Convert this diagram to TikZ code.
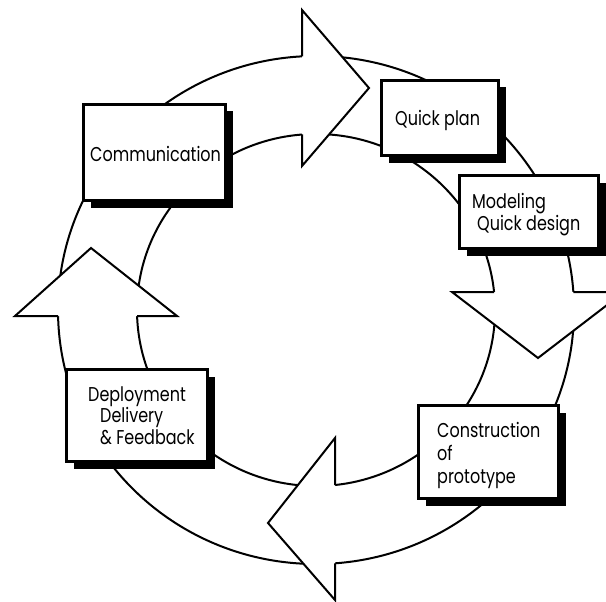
\documentclass[tikz,border=0pt]{standalone}
\usepackage{fontspec}
\setmainfont{Poppins}[FakeStretch=0.8]
\usetikzlibrary{shadows}
\begin{document}
\begin{tikzpicture}[x=1pt,y=-1pt,
  ring/.style={line width=2pt},
  headfill/.style={fill=white},
  headline/.style={line width=2pt, line join=miter, miter limit=10},
  box/.style={draw, line width=3pt, fill=white, inner sep=0pt, outer sep=0pt,
    drop shadow={shadow xshift=7pt, shadow yshift=-7pt, fill=black, opacity=1}},
  lbl/.style={anchor=base west, inner sep=0pt, font=\fontsize{20}{22}\selectfont}
]
\useasboundingbox (0,0) rectangle (606,602);
\clip (0,0) rectangle (606,602);
% ring
\draw[ring] (316,310) ellipse [x radius=258, y radius=254];
\draw[ring] (316,310) ellipse [x radius=179, y radius=176];
% arrowheads
% top (pointing right)
\fill[headfill] (302,10) -- (369,88) -- (302,166) -- cycle;
\draw[headline] (302,56.4) -- (302,10) -- (369,88) -- (302,166) -- (302,134.5);
% left (pointing up)
\fill[headfill] (15,316) -- (91,248) -- (177,316) -- cycle;
\draw[headline] (58.1,316) -- (15,316) -- (91,248) -- (177,316) -- (137.1,316);
% right (pointing down)
\fill[headfill] (452,292) -- (538,358) -- (624,292) -- cycle;
\draw[headline] (494.1,292) -- (452,292) -- (538,358) -- (624,292) -- (573.4,292);
% bottom (pointing left)
\fill[headfill] (335,438) -- (268,523) -- (335,600) -- cycle;
\draw[headline] (335,485) -- (335,438) -- (268,523) -- (335,600) -- (335,563.3);
% boxes
\node[box, minimum width=142pt, minimum height=96pt] (comm) at (154.5,152.5) {};
\node[box, minimum width=117pt, minimum height=75pt] (plan) at (440,118) {};
\node[box, minimum width=139pt, minimum height=73pt] (model) at (529,212) {};
\node[box, minimum width=141pt, minimum height=92pt] (deploy) at (137,415.5) {};
\node[box, minimum width=140pt, minimum height=93pt] (constr) at (488.5,452) {};
% labels
\node[lbl] (tcomm) at (90,161) {Communication};
\node[lbl] (tplan) at (395,125) {Quick plan};
\node[lbl] (tmod1) at (472,208) {Modeling};
\node[lbl] (tmod2) at (477,230) {Quick design};
\node[lbl] (tdep1) at (88,401) {Deployment};
\node[lbl] (tdep2) at (100,422) {Delivery};
\node[lbl] (tdep3) at (100,444) {\& Feedback};
\node[lbl] (tcon1) at (437,437) {Construction};
\node[lbl] (tcon2) at (437,460) {of};
\node[lbl] (tcon3) at (437,483) {prototype};
\end{tikzpicture}
\end{document}
